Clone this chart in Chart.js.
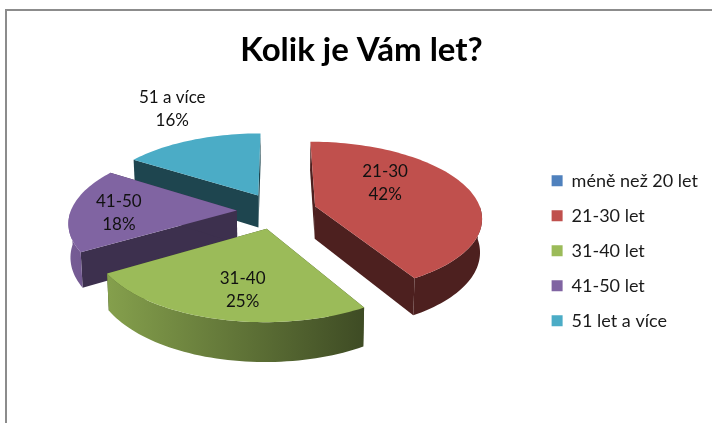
<!DOCTYPE html>
<html>
<head>
<meta charset="utf-8">
<script src="https://cdn.jsdelivr.net/npm/chart.js@4"></script>
<style>
  html, body { margin: 0; background: #fff; overflow: hidden; }
  #frame { position: absolute; left: 5px; top: 9px; right: 0; bottom: 0; border-left: 2px solid #8c8c8c; border-top: 2px solid #8c8c8c; }
  #ageChart { position: absolute; left: 0; top: 0; }
</style>
</head>
<body>
<div id="frame"></div>
<canvas id="ageChart" width="712" height="423"></canvas>
<script>
const chartTitle = "Kolik je Vám let?";
const categories = ["méně než 20 let", "21-30 let", "31-40 let", "41-50 let", "51 let a více"];
const sliceLabels = ["méně než 20", "21-30", "31-40", "41-50", "51 a více"];
const percentValues = [0, 42, 25, 18, 16];
const sliceColors = ["#4F81BD", "#C0504D", "#9BBB59", "#8064A2", "#4BACC6"];
const wallShades = [0.4, 0.4, 0.4, 0.48, 0.4];

// look of the tilted pie
const pieRadius = 166;
const explode = 40;
const squash = 0.45;
const perspective = 0.14;
const depth = 33;
const pieShiftX = 2;
const pieShiftY = -40;
// label offset from the tip of each slice
const labelOffsets = [[0, 0], [70, -24], [-24, 61], [-118, 2], [-86, -87]];

function shade(hex, f) {
  const n = parseInt(hex.slice(1), 16);
  return `rgb(${(n >> 16) * f}, ${((n >> 8) & 255) * f}, ${(n & 255) * f})`;
}

const pie3d = {
  id: "pie3d",
  beforeDatasetDraw() {
    return false; // the flat arcs are replaced below
  },
  afterDatasetsDraw(chart) {
    const ctx = chart.ctx;
    const arcs = chart.getDatasetMeta(0).data;

    const project = (arc, ox, oy, r, a, low) => {
      const X = ox + r * Math.cos(a);
      const Y = oy + r * Math.sin(a);
      const k = 1 / (1 - perspective * Y / pieRadius);
      const cy = arc.y + pieShiftY;
      return {
        x: arc.x + pieShiftX + X * k * (low ? 0.99 : 1),
        y: cy + squash * Y * k + (low ? depth * k : 0)
      };
    };
    const trace = (pts, fill) => {
      ctx.beginPath();
      pts.forEach((p, i) => (i ? ctx.lineTo(p.x, p.y) : ctx.moveTo(p.x, p.y)));
      ctx.closePath();
      ctx.fillStyle = fill;
      ctx.fill();
    };

    // far slices first
    const order = arcs
      .map((arc, i) => ({ arc, i, mid: (arc.startAngle + arc.endAngle) / 2 }))
      .filter(s => s.arc.endAngle > s.arc.startAngle)
      .sort((a, b) => Math.sin(a.mid) - Math.sin(b.mid));

    order.forEach(({ arc, i, mid }) => {
      const ox = explode * Math.cos(mid);
      const oy = explode * Math.sin(mid);
      const angles = [];
      const steps = Math.ceil((arc.endAngle - arc.startAngle) / 0.03);
      for (let s = 0; s <= steps; s++) {
        angles.push(arc.startAngle + (arc.endAngle - arc.startAngle) * s / steps);
      }
      const rim = (list, low) => list.map(a => project(arc, ox, oy, arc.outerRadius, a, low));
      const tipTop = project(arc, ox, oy, 0, 0, false);
      const tipLow = project(arc, ox, oy, 0, 0, true);
      const top = rim(angles, false);
      const low = rim(angles, true);
      const color = sliceColors[i];

      const wall = shade(color, wallShades[i]);
      trace([tipTop, top[0], low[0], tipLow], wall);
      trace([tipTop, top[top.length - 1], low[low.length - 1], tipLow], wall);

      // the outer wall only shows on the side facing us
      const near = angles.filter(a => Math.sin(a) > 0);
      if (near.length) {
        const grad = ctx.createLinearGradient(arc.x - 205, 0, arc.x + 90, 0);
        grad.addColorStop(0, shade(color, 0.92));
        grad.addColorStop(1, shade(color, 0.4));
        trace(rim(near, false).concat(rim(near, true).reverse()), grad);
      }
      trace([tipTop].concat(top), color);
    });

    ctx.font = "17px Lato";
    ctx.fillStyle = "#111";
    ctx.textAlign = "center";
    ctx.textBaseline = "middle";
    order.forEach(({ arc, i, mid }) => {
      const tip = project(arc, explode * Math.cos(mid), explode * Math.sin(mid), 0, 0, false);
      const x = tip.x + labelOffsets[i][0];
      const y = tip.y + labelOffsets[i][1];
      ctx.fillText(sliceLabels[i], x, y - 11);
      ctx.fillText(percentValues[i] + "%", x, y + 12);
    });
  }
};

Chart.defaults.font.family = "Lato";

new Chart(document.getElementById("ageChart"), {
  type: "pie",
  data: {
    labels: categories,
    datasets: [{
      data: percentValues,
      backgroundColor: sliceColors,
      radius: pieRadius,
      borderWidth: 0
    }]
  },
  options: {
    responsive: false,
    animation: false,
    layout: { padding: { top: 24, left: 15, right: 4 } },
    plugins: {
      title: {
        display: true,
        text: chartTitle,
        color: "#000",
        font: { family: "Lato", size: 33, weight: "bold" },
        padding: { top: 7, bottom: 8 }
      },
      legend: {
        position: "right",
        fullSize: false,
        labels: {
          boxWidth: 11,
          boxHeight: 11,
          padding: 17,
          color: "#1a1a1a",
          font: { size: 18 }
        }
      },
      tooltip: { enabled: false }
    }
  },
  plugins: [pie3d]
});
</script>
</body>
</html>
